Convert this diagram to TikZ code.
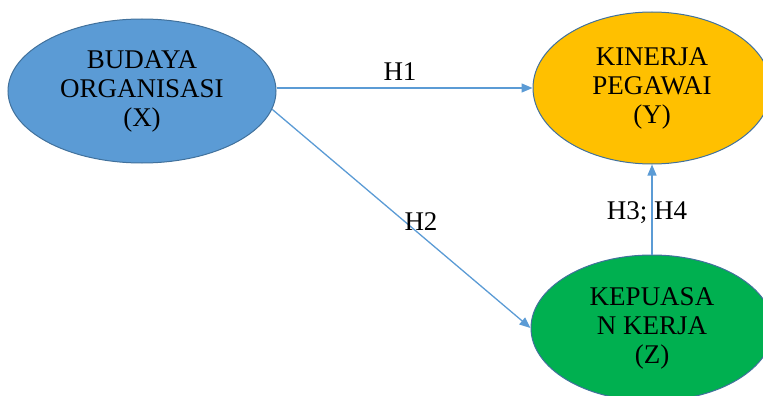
\documentclass[tikz,border=0pt]{standalone}
\usepackage{fontspec}
\setmainfont{Liberation Serif}
\usetikzlibrary{shapes.geometric,arrows.meta}
\definecolor{bluefill}{HTML}{5B9BD5}
\definecolor{yellowfill}{HTML}{FFC000}
\definecolor{greenfill}{HTML}{00B050}
\definecolor{outline}{HTML}{41719C}
\definecolor{arrowcol}{HTML}{5B9BD5}
\tikzset{
  var/.style={ellipse, draw=outline, line width=1pt, inner sep=0pt, align=center,
    font=\fontsize{27}{29}\selectfont, text=black},
  conn/.style={draw=arrowcol, line width=1.3pt, -{Triangle[length=11pt,width=9pt]}},
  hlab/.style={font=\fontsize{27}{29}\selectfont, text=black, inner sep=0pt}
}
\begin{document}
\begin{tikzpicture}[x=1pt,y=-1pt]
\useasboundingbox (0,0) rectangle (763,396);
\node[var, fill=bluefill, minimum width=268pt, minimum height=144pt] (bud) at (142,91) {BUDAYA\\ORGANISASI\\(X)};
\node[var, fill=yellowfill, minimum width=238pt, minimum height=152pt] (kin) at (652,88) {KINERJA\\PEGAWAI\\(Y)};
\node[var, fill=greenfill, minimum width=242pt, minimum height=146pt] (kep) at (652,328) {KEPUASA\\N KERJA\\(Z)};
\draw[conn] (bud.east |- kin.west) -- (kin.west);
\draw[conn] (bud.-8) -- (kep.west);
\draw[conn] (kep.north) -- (kin.south);
\node[hlab] (h1) at (400,72) {H1};
\node[hlab] (h2) at (421,222) {H2};
\node[hlab] (h34) at (647,213) {H3; H4};
\end{tikzpicture}
\end{document}
